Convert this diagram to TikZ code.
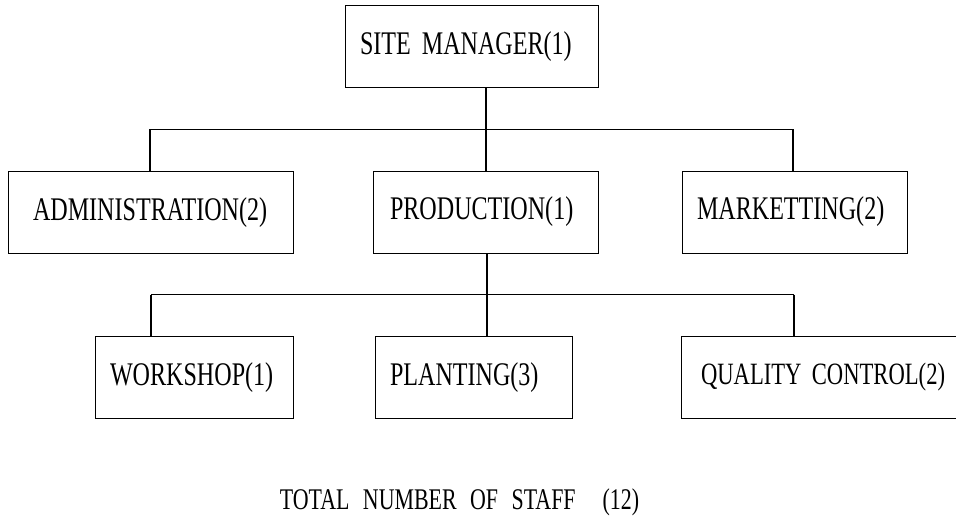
\documentclass[tikz,border=0pt]{standalone}
\usepackage{fontspec}
\setmainfont{Liberation Serif}[FakeStretch=0.73]
\newcommand{\bx}[1]{\mbox{#1}}
\begin{document}
\begin{tikzpicture}[x=1pt,y=-1pt,
  orgbox/.style={draw=black, line width=1pt, minimum height=82pt, inner ysep=0pt,
    align=left, font=\fontsize{33}{35}\selectfont},
  busline/.style={line width=1pt},
  stem/.style={line width=1.8pt}]
\useasboundingbox (0,0) rectangle (956,525);
% boxes: text width = width - 2*pad, inner xsep = pad
\node[orgbox, inner xsep=15pt, text width=223pt] (sm) at (471.5,46.5) {\bx{SITE MANAGER(1)}};
\node[orgbox, inner xsep=25pt, text width=235pt] (adm) at (150.5,212.5) {\bx{ADMINISTRATION(2)}};
\node[orgbox, inner xsep=17pt, text width=191pt] (prod) at (485.5,212) {\bx{PRODUCTION(1)}};
\node[orgbox, inner xsep=15pt, text width=195pt] (mkt) at (794.5,212) {\bx{MARKETTING(2)}};
\node[orgbox, inner xsep=15pt, text width=168pt] (ws) at (194,377.5) {\bx{WORKSHOP(1)}};
\node[orgbox, inner xsep=15pt, text width=167pt] (pl) at (473.5,377.5) {\bx{PLANTING(3)}};
\node[orgbox, inner xsep=20pt, text width=260pt, font=\fontsize{31}{33}\selectfont] (qc) at (831,377) {\bx{QUALITY CONTROL(2)}};
\node[font=\fontsize{30}{32}\selectfont, inner sep=0pt] (tot) at (459.5,502)
  {TOTAL\hspace{0.45em}NUMBER\hspace{0.45em}OF\hspace{0.45em}STAFF\hspace{0.9em}(12)};
% first level connectors
\coordinate (b1) at (486,129);
\coordinate (b1l) at (150,129);
\coordinate (b1r) at (793,129);
\draw[stem] (sm.south -| b1) -- (b1);
\draw[busline] (b1l) -- (b1r);
\draw[stem] (b1) -- (prod.north -| b1);
\draw[stem] (b1l) -- (adm.north -| b1l);
\draw[stem] (b1r) -- (mkt.north -| b1r);
% second level connectors
\coordinate (b2) at (487,294.5);
\coordinate (b2l) at (151,294.5);
\coordinate (b2r) at (794,294.5);
\draw[stem] (prod.south -| b2) -- (b2);
\draw[busline] (b2l) -- (b2r);
\draw[stem] (b2) -- (pl.north -| b2);
\draw[stem] (b2l) -- (ws.north -| b2l);
\draw[stem] (b2r) -- (qc.north -| b2r);
\end{tikzpicture}
\end{document}
